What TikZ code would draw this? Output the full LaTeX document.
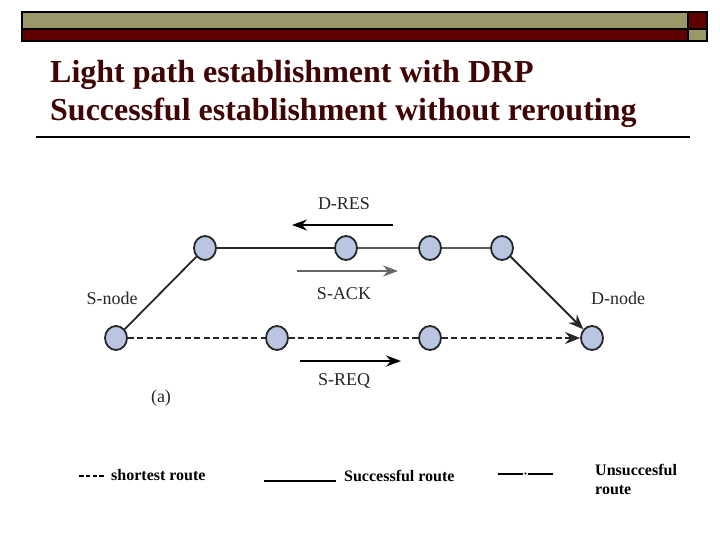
\documentclass[tikz,border=0pt]{standalone}
\usepackage{fontspec}
\setmainfont{Liberation Serif}
\usetikzlibrary{calc,positioning}
\usetikzlibrary{shapes}
\usetikzlibrary{arrows.meta}
\definecolor{olive}{RGB}{154,151,104}
\definecolor{darkred}{RGB}{96,0,0}
\definecolor{titlered}{RGB}{64,4,4}
\definecolor{nodeblue}{RGB}{186,197,226}

\begin{document}
\begin{tikzpicture}[x=1pt, y=-1pt,
  main/.style = {draw=black!85, ellipse, fill=nodeblue, line width=1.8pt, minimum width=22pt, minimum height=24pt, inner sep=0pt},
  lbl/.style = {font=\fontsize{18}{20}\selectfont, text=black!85, inner sep=0pt},
  leg/.style = {font=\fontsize{16}{19}\bfseries, inner sep=0pt, anchor=base west},
  msg/.style = {line width=2pt, -{Stealth[length=15pt, width=11pt, inset=5pt]}},
  route/.style = {line width=1.8pt, black!85},
  short/.style = {line width=2.4pt, black!85, dash pattern=on 6pt off 3.5pt}]
		\useasboundingbox (0,0) rectangle (720,540);
		% header bar
		\fill[olive] (22,12) rectangle (688,29);
		\fill[darkred] (688,12) rectangle (707,29);
		\fill[darkred] (22,29) rectangle (688,41);
		\fill[olive] (688,29) rectangle (707,41);
		\draw[line width=1.5pt] (22,12) rectangle (707,41);
		\draw[line width=1.5pt] (22,29) -- (707,29);
		\draw[line width=1.5pt] (688,12) -- (688,41);
		% title
		\node[anchor=base west, inner sep=0pt, text=titlered, font=\fontsize{32}{36}\bfseries] (t1) at (50,83) {Light path establishment with DRP};
		\node[anchor=base west, inner sep=0pt, text=titlered, font=\fontsize{32}{36}\bfseries] (t2) at (50,121) {Successful establishment without rerouting};
		\coordinate (rule-l) at (36,137);
		\coordinate (rule-r) at (690,137);
		\draw[line width=2pt] (rule-l) -- (rule-r);
		% network
		\node[main] (s)  at (116,338) {};
		\node[main] (b1) at (277,338) {};
		\node[main] (b2) at (430,338) {};
		\node[main] (d)  at (592,338) {};
		\node[main] (u1) at (205,248) {};
		\node[main] (u2) at (346,248) {};
		\node[main] (u3) at (430,248) {};
		\node[main] (u4) at (502,248) {};
		\node[lbl] (sname) at (112,298) {S-node};
		\node[lbl] (dname) at (618,298) {D-node};
		\node[lbl] (a) at (161,398) {(a)};
		\draw[route] (s) -- (u1);
		\draw[route] (u1) -- (u2);
		\draw[route, black!65] (u2) -- (u3);
		\draw[route, black!65] (u3) -- (u4);
		\draw[route, -{Stealth[length=15pt, width=12pt, inset=5pt]}] (u4) -- (d);
		\draw[short] (s) -- (b1);
		\draw[short] (b1) -- (b2);
		\draw[short, -{Stealth[length=15pt, width=12pt, inset=5pt]}] (b2) -- (d);
		% messages
		\node[lbl] (dres) at (344,204) {D-RES};
		\node[lbl] (sack) at (344,294) {S-ACK};
		\node[lbl] (sreq) at (344,381) {S-REQ};
		\coordinate (dres-a) at (393,225);
		\coordinate (dres-b) at (292,225);
		\coordinate (sack-a) at (297,271);
		\coordinate (sack-b) at (398,271);
		\coordinate (sreq-a) at (300,361);
		\coordinate (sreq-b) at (401,361);
		\draw[msg] (dres-a) -- (dres-b);
		\draw[msg, black!60] (sack-a) -- (sack-b);
		\draw[msg] (sreq-a) -- (sreq-b);
		% legend
		\coordinate (sh-a) at (79,476);
		\coordinate (sh-b) at (104,476);
		\draw[line width=2pt, dash pattern=on 4.5pt off 2.3pt] (sh-a) -- (sh-b);
		\node[leg] (shortleg) at (111,480) {shortest route};
		\coordinate (su-a) at (264,481);
		\coordinate (su-b) at (336,481);
		\draw[line width=1.2pt] (su-a) -- (su-b);
		\node[leg] (succleg) at (344,481) {Successful route};
		\coordinate (un-a) at (498,474);
		\coordinate (un-b) at (523,474);
		\coordinate (un-c) at (528,474);
		\coordinate (un-d) at (553,474);
		\draw[line width=1.2pt] (un-a) -- (un-b);
		\fill (525.5,473.5) circle (1.1pt);
		\draw[line width=1.2pt] (un-c) -- (un-d);
		\node[leg] (unsleg) at (595,475) {Unsuccesful};
		\node[leg] (unsleg2) at (595,494) {route};
\end{tikzpicture}
\end{document}
